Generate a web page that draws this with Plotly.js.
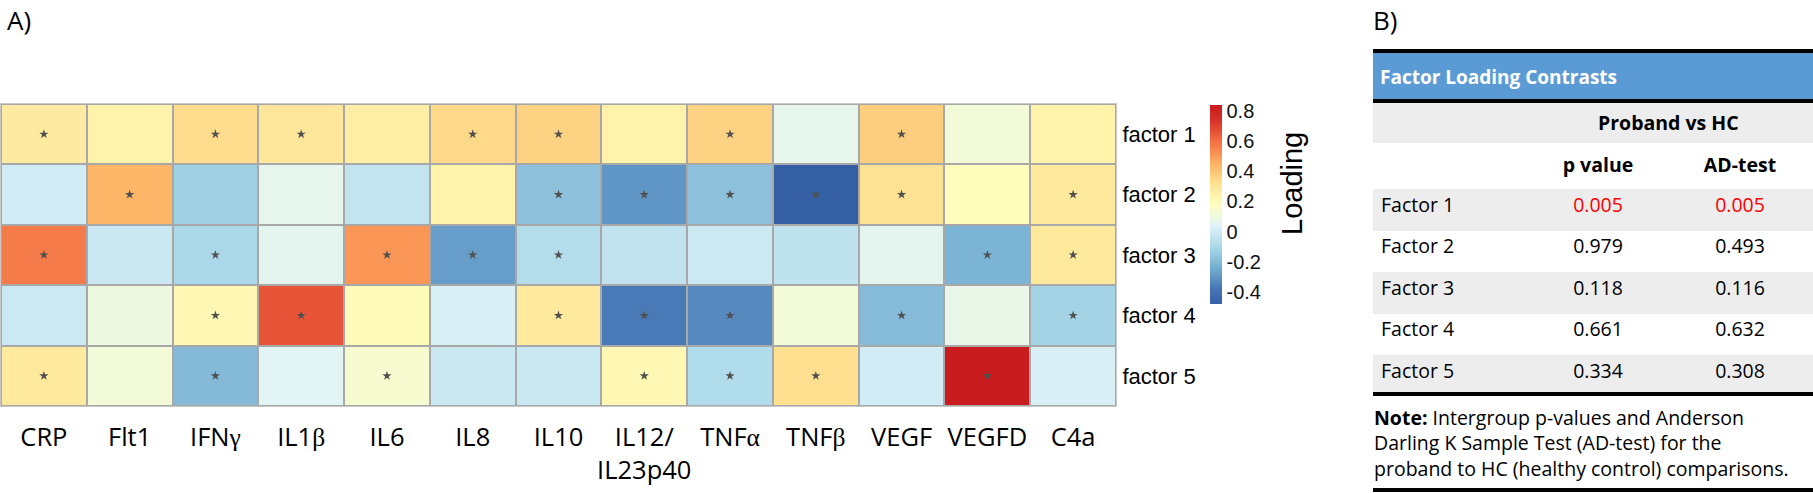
<!DOCTYPE html>
<html>
<head>
<meta charset="utf-8">
<script src="https://cdn.plot.ly/plotly-3.0.1.min.js"></script>
<style>
  html, body { margin: 0; padding: 0; background: #ffffff; }
  #chart { width: 1813px; height: 493px; }
</style>
</head>
<body>
<div id="chart"></div>
<script>
// ---------------- DATA ----------------
const categories = ["CRP", "Flt1", "IFNγ", "IL1β", "IL6", "IL8", "IL10", "IL12/IL23p40", "TNFα", "TNFβ", "VEGF", "VEGFD", "C4a"];
const factors = ["factor 1", "factor 2", "factor 3", "factor 4", "factor 5"];

const loadingFactor1 = [0.27, 0.24, 0.33, 0.29, 0.26, 0.34, 0.36, 0.24, 0.36, 0.07, 0.37, 0.12, 0.24];
const loadingFactor2 = [0.00, 0.44, -0.13, 0.07, -0.04, 0.24, -0.18, -0.30, -0.18, -0.48, 0.31, 0.19, 0.28];
const loadingFactor3 = [0.57, -0.02, -0.10, 0.06, 0.51, -0.28, -0.08, -0.045, -0.015, -0.05, 0.06, -0.22, 0.28];
const loadingFactor4 = [-0.015, 0.10, 0.21, 0.66, 0.20, 0.02, 0.28, -0.37, -0.33, 0.12, -0.195, 0.08, -0.12];
const loadingFactor5 = [0.28, 0.12, -0.20, 0.05, 0.14, -0.02, -0.02, 0.21, -0.085, 0.32, 0.00, 0.84, 0.02];

const starFactor1 = [1, 0, 1, 1, 0, 1, 1, 0, 1, 0, 1, 0, 0];
const starFactor2 = [0, 1, 0, 0, 0, 0, 1, 1, 1, 1, 1, 0, 1];
const starFactor3 = [1, 0, 1, 0, 1, 1, 1, 0, 0, 0, 0, 1, 1];
const starFactor4 = [0, 0, 1, 1, 0, 0, 1, 1, 1, 0, 1, 0, 1];
const starFactor5 = [1, 0, 1, 0, 1, 0, 0, 1, 1, 1, 0, 1, 0];

const colorbarTicks = [-0.4, -0.2, 0, 0.2, 0.4, 0.6, 0.8];

const tableTitle = "Factor Loading Contrasts";
const tableGroup = "Proband vs HC";
const tableColumns = ["", "p value", "AD-test"];
const tableFactors = ["Factor 1", "Factor 2", "Factor 3", "Factor 4", "Factor 5"];
const pValues = [0.005, 0.979, 0.118, 0.661, 0.334];
const adTest = [0.005, 0.493, 0.116, 0.632, 0.308];
const noteText = "<b>Note:</b> Intergroup p-values and Anderson<br>Darling K Sample Test (AD-test) for the<br>proband to HC (healthy control) comparisons.";

// ---------------- HELPERS ----------------
const W = 1813, H = 493;
const px = v => v / W;
const py = v => 1 - v / H;

const zMatrix = [loadingFactor1, loadingFactor2, loadingFactor3, loadingFactor4, loadingFactor5];
const starMatrix = [starFactor1, starFactor2, starFactor3, starFactor4, starFactor5];

const starX = [], starY = [];
starMatrix.forEach((row, i) => row.forEach((s, j) => { if (s) { starX.push(categories[j]); starY.push(factors[i]); } }));

const greek = s => s.replace(/([αβγ])/g, '<span style="font-family:\'Liberation Serif\'">$1</span>');
const tickText = categories.map(c => greek(c.replace("/", "/<br>")));

const colorscale = [
  [0.000, "rgb(54,96,165)"],
  [0.074, "#4575B4"],
  [0.181, "#74ADD1"],
  [0.287, "#ABD9E9"],
  [0.394, "#E0F3F8"],
  [0.500, "#FFFFBF"],
  [0.606, "#FEE090"],
  [0.713, "#FDAE61"],
  [0.819, "#F46D43"],
  [0.926, "#D73027"],
  [1.000, "rgb(200,28,30)"]
];

const heat = {
  type: "heatmap",
  x: categories,
  y: factors,
  z: zMatrix,
  zmin: -0.48,
  zmax: 0.84,
  colorscale: colorscale,
  xgap: 2,
  ygap: 2,
  hoverinfo: "skip",
  colorbar: {
    x: px(1210), xanchor: "left", xref: "paper",
    y: py(105), yanchor: "top", yref: "paper",
    thickness: 12, thicknessmode: "pixels",
    len: 199, lenmode: "pixels",
    xpad: 0, ypad: 0,
    outlinewidth: 0, borderwidth: 0,
    tickmode: "array", tickvals: colorbarTicks, ticktext: colorbarTicks.map(String),
    ticks: "", ticklen: 0,
    tickfont: { family: "Liberation Sans, Arial, sans-serif", size: 20, color: "#111" }
  }
};

const stars = {
  type: "scatter",
  mode: "markers",
  x: starX,
  y: starY,
  marker: { symbol: "star", size: 7, color: "#505050" },
  hoverinfo: "skip",
  showlegend: false
};

const rowFill = tableFactors.map((_, i) => i % 2 === 0 ? "#EDEDED" : "#FFFFFF");
const redIfSig = arr => arr.map(v => v < 0.05 ? "#FF0000" : "#000000");

const table = {
  type: "table",
  domain: { x: [px(1373), 1], y: [py(396), py(143)] },
  columnwidth: [156, 138, 146],
  header: {
    values: tableColumns.map(c => c ? "<b>" + c + "</b>" : ""),
    align: ["left", "center", "center"],
    height: 46,
    fill: { color: "#FFFFFF" },
    line: { width: 0, color: "rgba(0,0,0,0)" },
    font: { family: "Open Sans, sans-serif", size: 19.5, color: "#000" }
  },
  cells: {
    values: [tableFactors, pValues.map(v => v.toFixed(3)), adTest.map(v => v.toFixed(3))],
    align: ["left", "center", "center"],
    height: 41.5,
    fill: { color: [rowFill, rowFill, rowFill] },
    line: { width: 0, color: "rgba(0,0,0,0)" },
    font: { family: "Open Sans, sans-serif", size: 19.5,
            color: [tableFactors.map(() => "#000"), redIfSig(pValues), redIfSig(adTest)] }
  }
};

const blackBar = (y0, y1) => ({ type: "rect", xref: "paper", yref: "paper",
  x0: px(1373), x1: 1, y0: py(y1), y1: py(y0), fillcolor: "#000", line: { width: 0 }, layer: "above" });

const layout = {
  width: W, height: H,
  margin: { l: 0, r: 0, t: 0, b: 0, pad: 0 },
  paper_bgcolor: "#FFFFFF",
  plot_bgcolor: "#A8A8A8",
  showlegend: false,
  xaxis: {
    domain: [px(1), px(1116)],
    type: "category",
    range: [-0.5, categories.length - 0.5],
    tickmode: "array", tickvals: categories, ticktext: tickText,
    ticks: "", showgrid: false, zeroline: false,
    showline: true, linecolor: "#C8C8C8", linewidth: 1, mirror: true,
    tickfont: { family: "Open Sans, sans-serif", size: 25.5, color: "#000" },
    ticklabelstandoff: 8,
    fixedrange: true
  },
  yaxis: {
    domain: [py(406), py(104)],
    type: "category",
    range: [factors.length - 0.5, -0.5],
    side: "right",
    ticks: "", showgrid: false, zeroline: false,
    showline: true, linecolor: "#C8C8C8", linewidth: 1, mirror: true,
    tickfont: { family: "Liberation Sans, Arial, sans-serif", size: 22, color: "#000" },
    ticklabelstandoff: 1,
    fixedrange: true
  },
  shapes: [
    { type: "rect", xref: "paper", yref: "paper", x0: px(1373), x1: 1, y0: py(99), y1: py(53),
      fillcolor: "#5B9BD5", line: { width: 0 }, layer: "below" },
    { type: "rect", xref: "paper", yref: "paper", x0: px(1373), x1: 1, y0: py(143), y1: py(103),
      fillcolor: "#EDEDED", line: { width: 0 }, layer: "below" },
    blackBar(49, 53), blackBar(99, 103), blackBar(392, 396), blackBar(488, 492)
  ],
  annotations: [
    { text: "A)", xref: "paper", yref: "paper", x: px(5), y: 1, xanchor: "left", yanchor: "top",
      showarrow: false, font: { family: "Open Sans, sans-serif", size: 26, color: "#000" } },
    { text: "B)", xref: "paper", yref: "paper", x: px(1371), y: 1, xanchor: "left", yanchor: "top",
      showarrow: false, font: { family: "Open Sans, sans-serif", size: 26, color: "#000" } },
    { text: "Loading", xref: "paper", yref: "paper", x: px(1292), y: py(184), xanchor: "center", yanchor: "middle",
      textangle: -90, showarrow: false, font: { family: "Liberation Sans, Arial, sans-serif", size: 29, color: "#000" } },
    { text: "<b>" + tableTitle + "</b>", xref: "paper", yref: "paper", x: px(1378), y: py(77), xanchor: "left", yanchor: "middle",
      showarrow: false, font: { family: "Open Sans, sans-serif", size: 19, color: "#FFFFFF" } },
    { text: "<b>" + tableGroup + "</b>", xref: "paper", yref: "paper", x: px(1668), y: py(123), xanchor: "center", yanchor: "middle",
      showarrow: false, font: { family: "Open Sans, sans-serif", size: 19.5, color: "#000" } },
    { text: noteText, xref: "paper", yref: "paper", x: px(1372), y: py(443), xanchor: "left", yanchor: "middle", align: "left",
      showarrow: false, font: { family: "Open Sans, sans-serif", size: 19.5, color: "#000" } }
  ]
};

Plotly.newPlot("chart", [heat, stars, table], layout, { displayModeBar: false, staticPlot: true });
</script>
</body>
</html>
